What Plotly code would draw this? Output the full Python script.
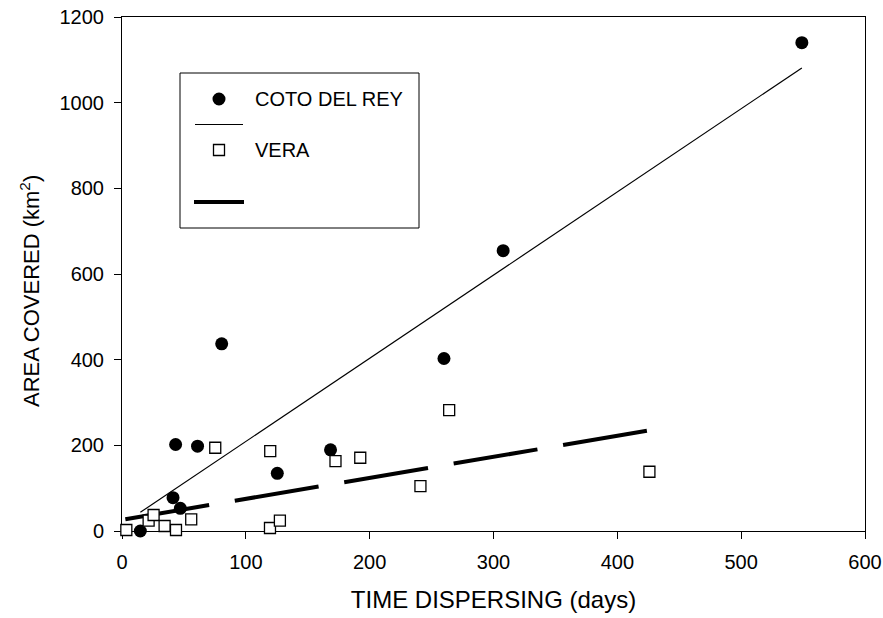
import plotly.graph_objects as go

# ---- data ----
coto_x = [14.8, 41.2, 43.3, 47.1, 61.0, 80.5, 125.4, 168.4, 260.0, 307.8, 549.0]
coto_y = [0.0, 77.7, 202.0, 52.9, 198.0, 437.0, 134.6, 189.6, 402.7, 654.5, 1140.0]

vera_x = [3.5, 21.5, 25.5, 34.4, 43.6, 55.9, 75.3, 119.7, 119.5, 127.5, 172.4, 192.4, 241.0, 264.2, 425.9]
vera_y = [2.3, 24.0, 37.3, 11.7, 2.3, 27.3, 194.3, 186.6, 7.0, 24.0, 163.2, 171.0, 105.0, 282.2, 138.3]

coto_fit_x = [14.8, 549.0]
coto_fit_y = [43.6, 1081.0]

vera_fit_x = [2.7, 427.0]
vera_fit_y = [27.3, 235.5]

x_ticks = [0, 100, 200, 300, 400, 500, 600]
y_ticks = [0, 200, 400, 600, 800, 1000, 1200]

legend_labels = ["COTO DEL REY", "VERA"]

FONT = "Liberation Sans, Arial, sans-serif"

W, H = 883, 618
ML, MR, MT, MB = 122, 18, 17, 87
PW, PH = W - ML - MR, H - MT - MB


def px(xp):
    return (xp - ML) / PW


def py(yp):
    return (H - MB - yp) / PH


fig = go.Figure()

fig.add_trace(go.Scatter(x=coto_fit_x, y=coto_fit_y, mode="lines", name="COTO DEL REY fit",
                         line=dict(color="black", width=1.2), cliponaxis=False, showlegend=False))
fig.add_trace(go.Scatter(x=vera_fit_x, y=vera_fit_y, mode="lines", name="VERA fit",
                         line=dict(color="black", width=4, dash="85px,26px"),
                         cliponaxis=False, showlegend=False))
fig.add_trace(go.Scatter(x=coto_x, y=coto_y, mode="markers", name=legend_labels[0],
                         marker=dict(symbol="circle", size=13, color="black"),
                         cliponaxis=False, showlegend=False))
fig.add_trace(go.Scatter(x=vera_x, y=vera_y, mode="markers", name=legend_labels[1],
                         marker=dict(symbol="square", size=11, color="white",
                                     line=dict(color="black", width=1.3)),
                         cliponaxis=False, showlegend=False))

# ---- legend box drawn in paper coordinates ----
shapes = [
    dict(type="rect", xref="paper", yref="paper", x0=px(180), x1=px(419), y0=py(73), y1=py(228),
         line=dict(color="black", width=1), fillcolor="white", layer="above"),
    dict(type="circle", xref="paper", yref="paper", x0=px(212.5), x1=px(225.5), y0=py(92.5), y1=py(105.5),
         line=dict(color="black", width=0), fillcolor="black", layer="above"),
    dict(type="line", xref="paper", yref="paper", x0=px(195), x1=px(243), y0=py(124.5), y1=py(124.5),
         line=dict(color="black", width=1.2), layer="above"),
    dict(type="rect", xref="paper", yref="paper", x0=px(213.5), x1=px(224.5), y0=py(144.5), y1=py(155.5),
         line=dict(color="black", width=1.3), fillcolor="white", layer="above"),
    dict(type="line", xref="paper", yref="paper", x0=px(194), x1=px(244), y0=py(202), y1=py(202),
         line=dict(color="black", width=4), layer="above"),
]

annotations = [
    dict(text=legend_labels[0], xref="paper", yref="paper", x=px(253), y=py(99),
         xanchor="left", yanchor="middle", showarrow=False, font=dict(family=FONT, size=20, color="black")),
    dict(text=legend_labels[1], xref="paper", yref="paper", x=px(253), y=py(150),
         xanchor="left", yanchor="middle", showarrow=False, font=dict(family=FONT, size=20, color="black")),
    dict(text="AREA COVERED (km<sup>2</sup>)", xref="paper", yref="paper", x=px(30), y=py(291),
         xanchor="center", yanchor="middle", textangle=-90, showarrow=False,
         font=dict(family=FONT, size=22, color="black")),
]

axis_common = dict(showline=True, linecolor="black", linewidth=1, mirror=True,
                   ticks="outside", ticklen=7, tickcolor="black", tickwidth=1,
                   showgrid=False, zeroline=False, layer="below traces", automargin=False,
                   ticklabelstandoff=6,
                   tickfont=dict(family=FONT, size=20, color="black"))

fig.update_layout(
    width=W, height=H,
    margin=dict(l=ML, r=MR, t=MT, b=MB, autoexpand=False),
    plot_bgcolor="white", paper_bgcolor="white",
    font=dict(family=FONT, color="black"),
    xaxis=dict(range=[0, 600], tickvals=x_ticks,
               title=dict(text="TIME DISPERSING (days)", font=dict(family=FONT, size=24), standoff=19),
               **axis_common),
    yaxis=dict(range=[0, 1200], tickvals=y_ticks, **axis_common),
    showlegend=False,
    shapes=shapes,
    annotations=annotations,
)

fig.write_html("out.html")
